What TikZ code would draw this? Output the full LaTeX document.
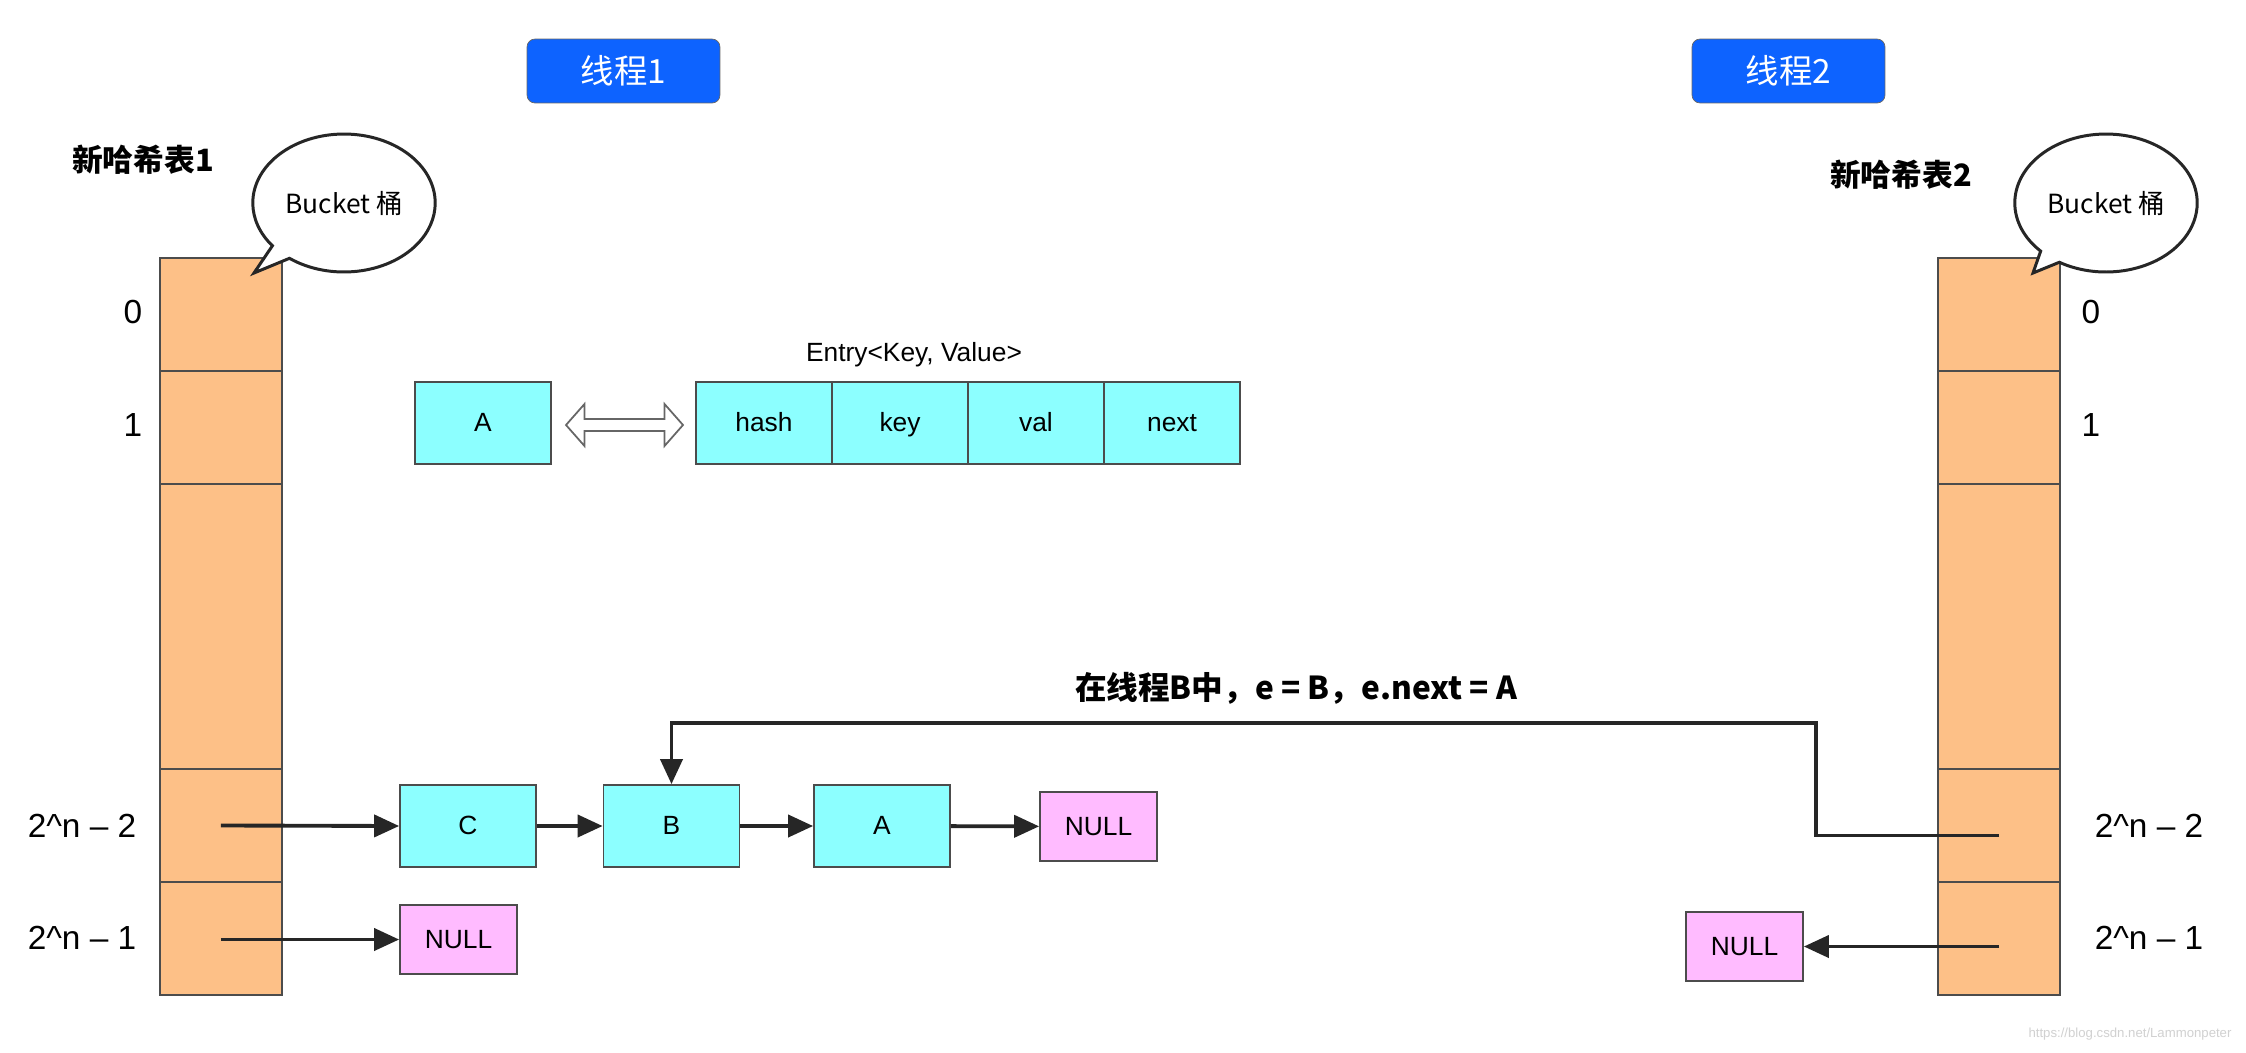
\documentclass[tikz,border=0pt]{standalone}
\usepackage{fontspec}
\setmainfont{Liberation Sans}
\newfontfamily\cjk{Noto Sans CJK SC}
\usetikzlibrary{arrows.meta,shapes.callouts}

\definecolor{orangeseau}{RGB}{253,192,135}
\definecolor{cyanboite}{RGB}{140,255,255}
\definecolor{roseboite}{RGB}{255,187,255}
\definecolor{bleubouton}{RGB}{13,99,255}

\tikzset{
  seau/.style={draw=black!70, line width=1pt, fill=orangeseau, anchor=north west,
    minimum width=2.44cm, inner sep=0pt, outer sep=0pt},
  boite/.style={draw=black!70, line width=1pt, fill=cyanboite, minimum width=2.72cm,
    minimum height=1.64cm, inner sep=0pt, text height=2ex, text depth=.2ex,
    font=\fontsize{15}{18}\selectfont},
  nulle/.style={draw=black!70, line width=1pt, fill=roseboite, minimum width=2.34cm,
    minimum height=1.38cm, inner sep=0pt, font=\fontsize{15}{18}\selectfont},
  fleche/.style={line width=2.2pt, draw=black!85, -{Triangle[length=0.5cm,width=0.44cm]}},
  bouton/.style={draw=black!60, fill=bleubouton, rounded corners=0.16cm, minimum width=3.86cm,
    minimum height=1.28cm, text=white, font=\cjk\fontsize{19}{22}\selectfont},
  bulle/.style={ellipse callout, draw=black!85, line width=1.7pt, fill=white,
    minimum width=3.56cm, minimum height=2.76cm, font=\cjk\fontsize{15}{18}\selectfont},
  indice/.style={font=\fontsize{19}{22}\selectfont},
  titre/.style={font=\cjk\bfseries\fontsize{17.5}{20}\selectfont}
}

\begin{document}
\begin{tikzpicture}[x=0.02cm, y=-0.02cm]
    % Fond blanc et cadre de la figure
    \fill[white] (0,0) rectangle (2246,1052);
    \useasboundingbox (0,0) rectangle (2246,1052);

    % Les deux boutons bleus des threads
    \node[bouton] (fil1) at (623.5,71) {线程1};
    \node[bouton] (fil2) at (1788.5,71) {线程2};

    % Nouvelle table de hachage 1
    \node[titre] (titre1) at (143,160) {新哈希表1};
    \node[seau, minimum height=2.26cm] (tab1-0) at (160,258) {};
    \node[seau, minimum height=2.26cm] (tab1-1) at (160,371) {};
    \node[seau, minimum height=5.7cm] (tab1-m) at (160,484) {};
    \node[seau, minimum height=2.26cm] (tab1-n2) at (160,769) {};
    \node[seau, minimum height=2.26cm] (tab1-n1) at (160,882) {};
    \node[indice] (ind1-0) at (133,312) {0};
    \node[indice] (ind1-1) at (133,425) {1};
    \node[indice] (ind1-n2) at (82,826) {2\textasciicircum n -- 2};
    \node[indice] (ind1-n1) at (82,938) {2\textasciicircum n -- 1};
    \node[bulle, callout absolute pointer={(254,273)}] (bulle1) at (344,203) {Bucket 桶};

    % Nouvelle table de hachage 2
    \node[titre] (titre2) at (1901,175) {新哈希表2};
    \node[seau, minimum height=2.26cm] (tab2-0) at (1938,258) {};
    \node[seau, minimum height=2.26cm] (tab2-1) at (1938,371) {};
    \node[seau, minimum height=5.7cm] (tab2-m) at (1938,484) {};
    \node[seau, minimum height=2.26cm] (tab2-n2) at (1938,769) {};
    \node[seau, minimum height=2.26cm] (tab2-n1) at (1938,882) {};
    \node[indice] (ind2-0) at (2091,312) {0};
    \node[indice] (ind2-1) at (2091,425) {1};
    \node[indice] (ind2-n2) at (2149,826) {2\textasciicircum n -- 2};
    \node[indice] (ind2-n1) at (2149,938) {2\textasciicircum n -- 1};
    \node[bulle, callout absolute pointer={(2033,273)}] (bulle2) at (2106,203) {Bucket 桶};

    % Structure d'une entrée
    \node[boite] (entA) at (483,423) {A};
    \node[font=\fontsize{15}{18}\selectfont] (titreEnt) at (914,355) {Entry<Key, Value>};
    \node[boite] (hash) at (764,423) {hash};
    \node[boite] (key) at (900,423) {key};
    \node[boite] (val) at (1036,423) {val};
    \node[boite] (next) at (1172,423) {next};
    \coordinate (milieu) at (624.5,425);
    \draw[black!60, line width=1pt, fill=white] (milieu) ++(-58.5,0) -- ++(18.5,-21) -- ++(0,15)
      -- ++(80,0) -- ++(0,-15) -- ++(18.5,21) -- ++(-18.5,21) -- ++(0,-15) -- ++(-80,0)
      -- ++(0,15) -- cycle;

    % Liste chaînée du thread 1
    \node[boite] (C) at (468,826) {C};
    \node[boite] (B) at (671.5,826) {B};
    \node[boite] (A) at (882,826) {A};
    \node[nulle] (nul1) at (1098.5,826.5) {NULL};
    \node[nulle] (nul2) at (458.5,939.5) {NULL};
    \draw[fleche] (tab1-n2.center) -- (C.west);
    \draw[fleche] (C) -- (B);
    \draw[fleche] (B) -- (A);
    \draw[fleche] (A) -- (nul1);
    \draw[fleche] (tab1-n1.center |- nul2.west) -- (nul2.west);

    % Côté thread 2
    \node[nulle] (nul3) at (1744.5,946.5) {NULL};
    \draw[fleche] (tab2-n1.center |- nul3.east) -- (nul3.east);
    \coordinate (coude) at (1816,723);
    \draw[fleche] ([yshift=-0.2cm]tab2-n2.center) -| (coude) -| (B.north);
    \node[font=\cjk\bfseries\fontsize{18}{21}\selectfont] (note) at (1296,688) {在线程B中，e = B，e.next = A};

    % Filigrane
    \node[text=black!18, font=\fontsize{7.5}{9}\selectfont] (filigrane) at (2130,1034) {https://blog.csdn.net/Lammonpeter};
\end{tikzpicture}
\end{document}
